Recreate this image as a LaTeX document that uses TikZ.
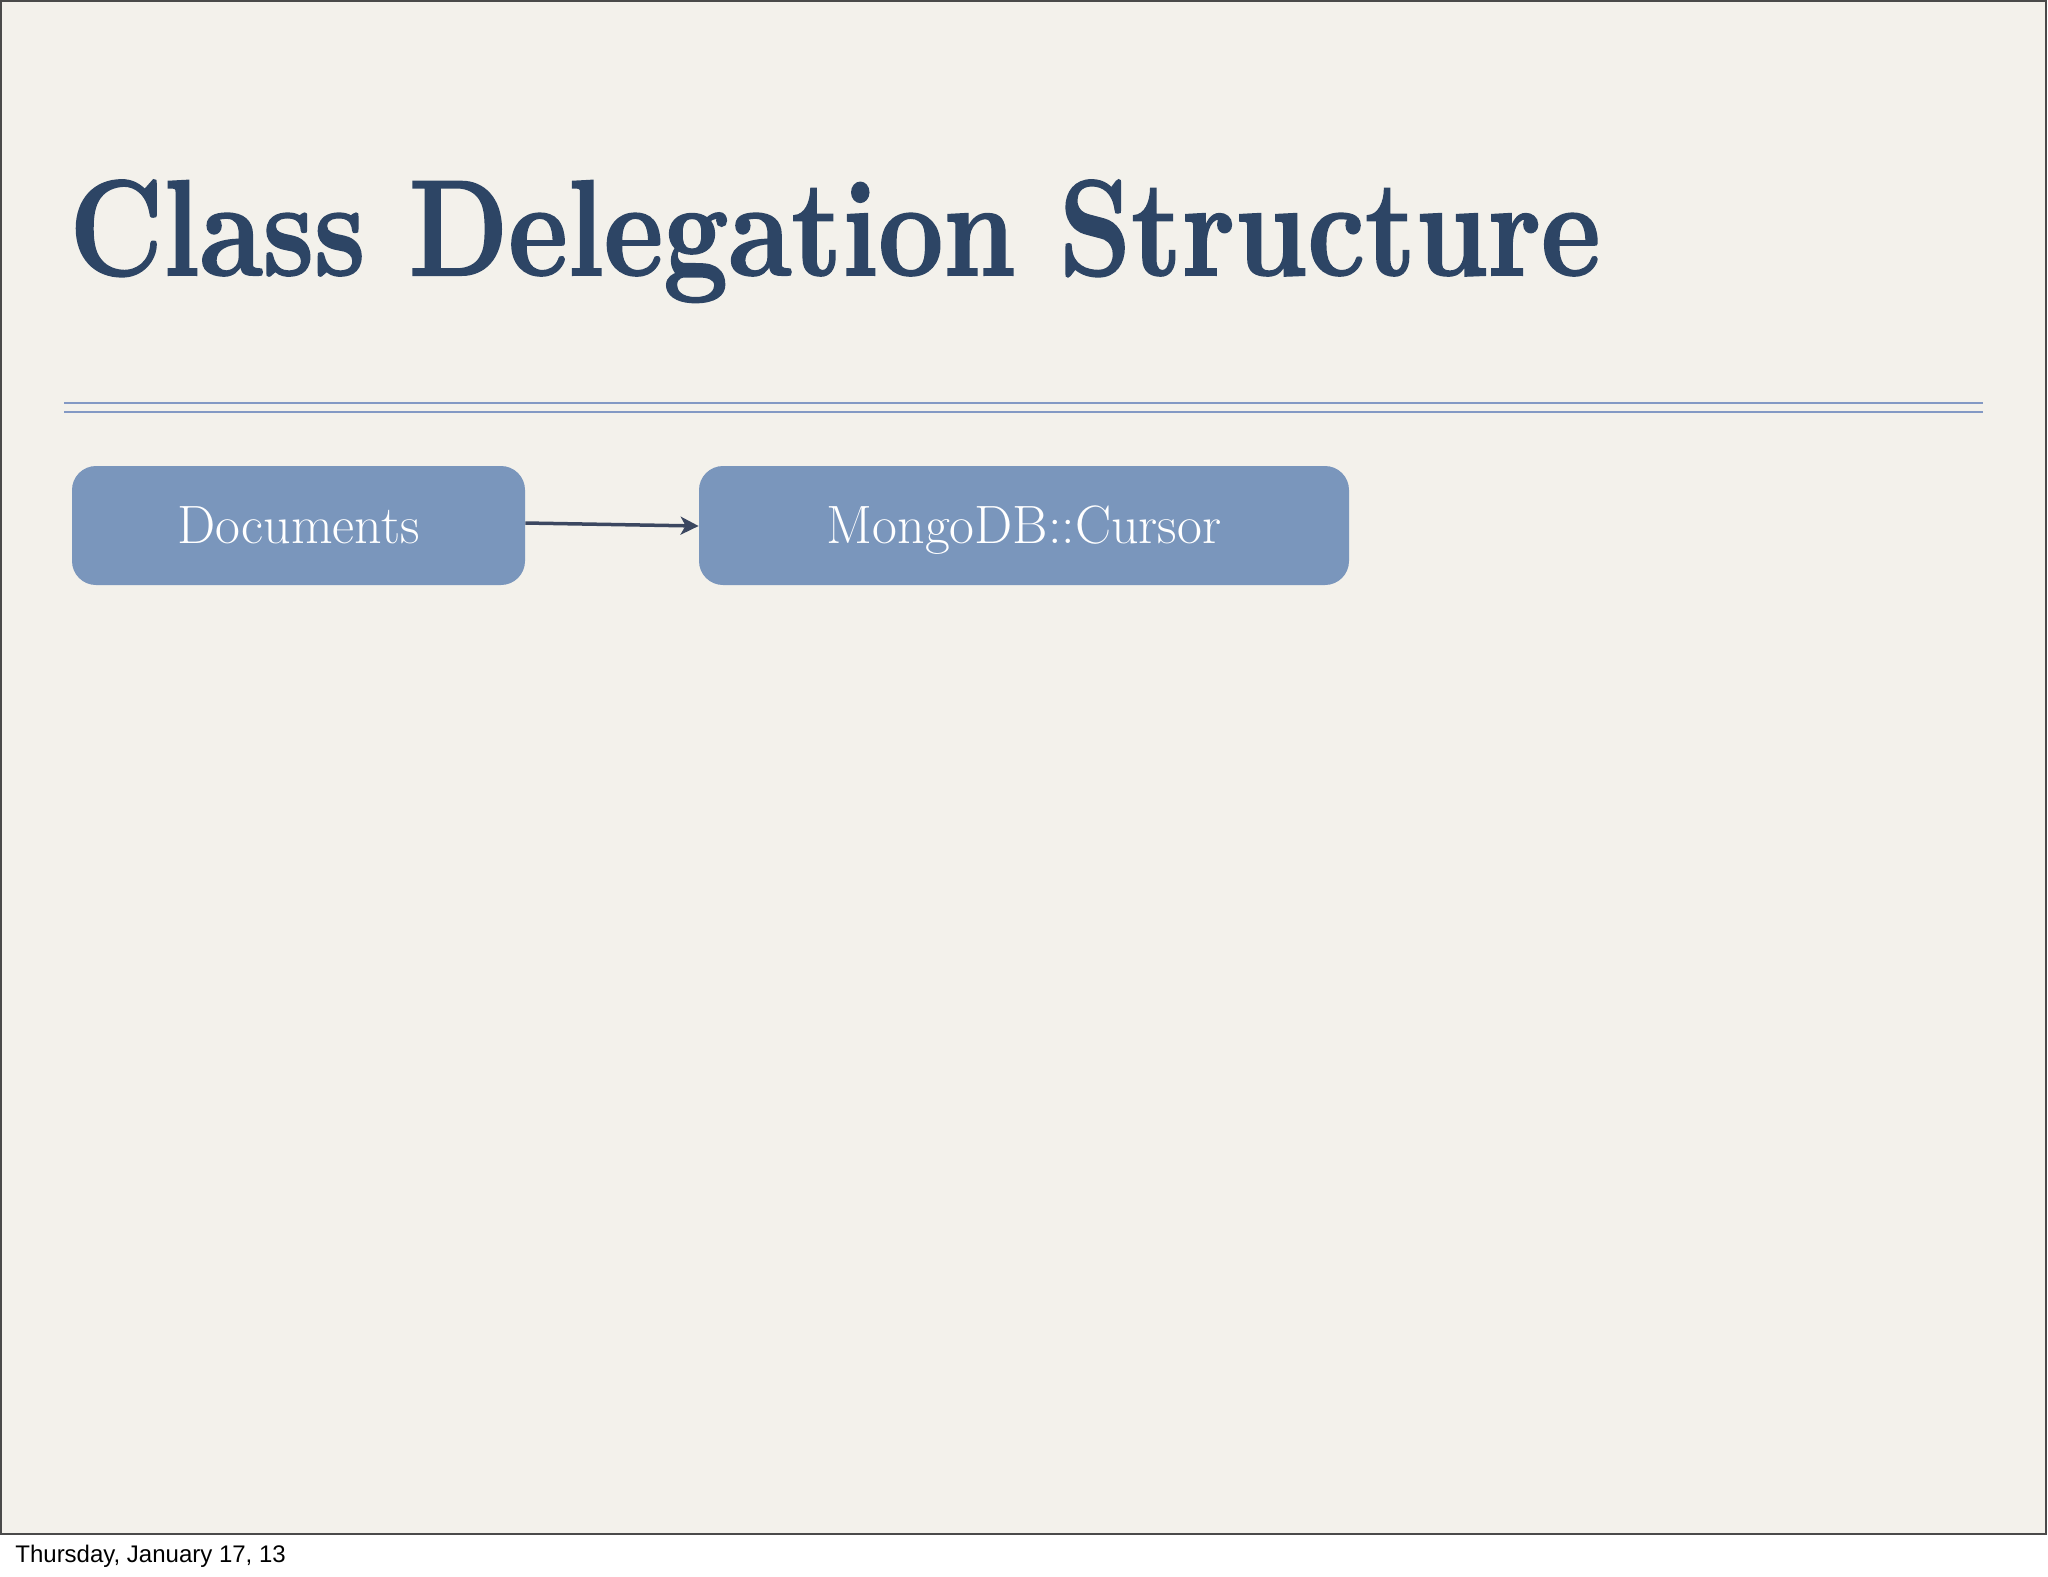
\documentclass[tikz,border=0pt]{standalone}
\usepackage{fontspec}
\usepackage{tikz}
\newfontfamily\footfont{Liberation Sans}
\definecolor{slidePaper}  {HTML}{F3F1EB}
\definecolor{slideEdge}   {HTML}{4A4A4A}
\definecolor{titleNavy}   {HTML}{2D4565}
\definecolor{ruleBlue}    {HTML}{8399C4}
\definecolor{boxBlue}     {HTML}{7A96BC}
\definecolor{arrowSlate}  {HTML}{3B4760}
\newcommand{\heavytext}[1]{\special{pdf:literal direct 2 Tr 1 w}#1\special{pdf:literal direct 0 Tr}}
\tikzstyle{classBox}   = [rounded corners=12pt, fill=boxBlue, text=white, minimum height=59.5pt, text height=20pt, text depth=2.5pt, font=\fontsize{27}{30}\selectfont]
\tikzstyle{delegation} = [line width=1.75pt, draw=arrowSlate, -{Stealth[length=9pt,width=9pt,inset=2.5pt]}]
\usetikzlibrary{positioning,calc,arrows.meta}
\tikzset{
  x=0.5pt, y=-0.5pt,
  slideRule/.style={draw=ruleBlue, line width=1.1pt}
}

\begin{document}
\begin{tikzpicture}
			\useasboundingbox (0,0) rectangle (2048,1576);
			\fill[white] (0,0) rectangle (2048,1576);
			\fill[slidePaper] (0,0) rectangle (2047,1535);
			\draw[slideEdge, line width=1.2pt] (1,1) rectangle (2046,1534);
			\node[anchor=base west, text=titleNavy, inner sep=0pt] (title) at (69,275)
			  {\scalebox{0.85}[1]{\bfseries\fontsize{68}{72}\selectfont\heavytext{Class Delegation Structure}}};
			\draw[slideRule] (64,403) -- (1983,403);
			\draw[slideRule] (64,412) -- (1983,412);
			\node[classBox, minimum width=226.5pt] (docs)   at (298.5,525.5) {Documents};
			\node[classBox, minimum width=325pt]   (cursor) at (1024,525.5)  {MongoDB::Cursor};
			\draw[delegation] ([yshift=1.25pt]docs.east) -- ([yshift=-0.25pt]cursor.west);
			\node[anchor=base west, inner sep=0pt, font=\footfont\fontsize{12}{14}\selectfont] (date) at (15,1562) {Thursday, January 17, 13};
		\end{tikzpicture}
\end{document}
